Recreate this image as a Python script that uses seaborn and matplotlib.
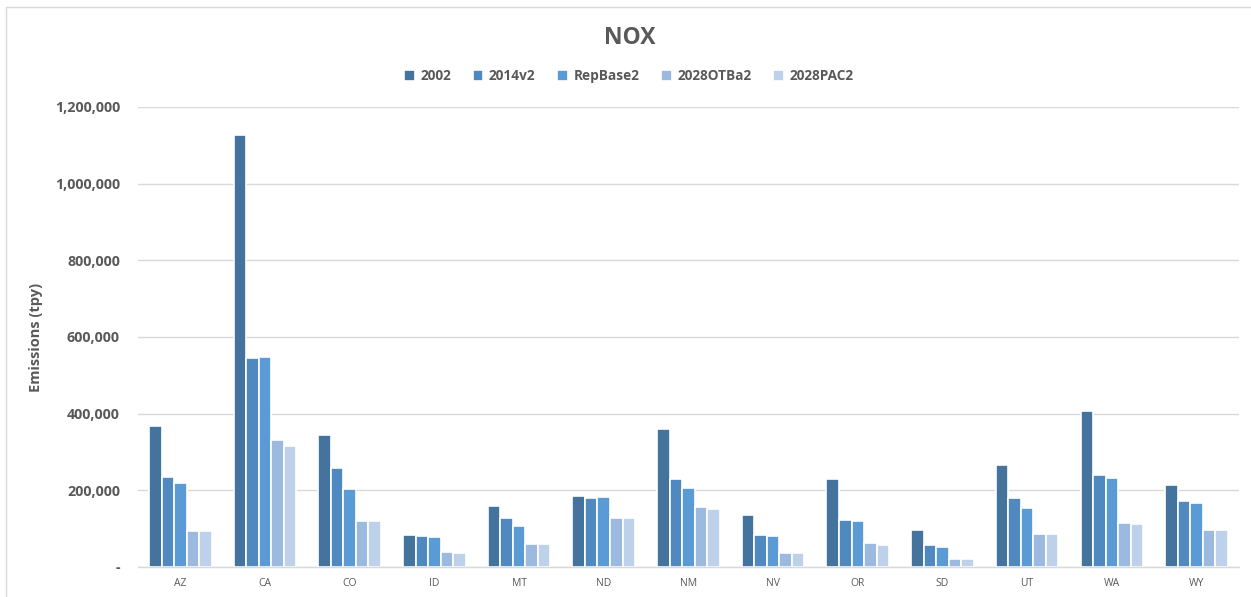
import matplotlib.pyplot as plt
import matplotlib.ticker as mticker
import seaborn as sns
import pandas as pd

# Datos (tpy)
estados = ["AZ", "CA", "CO", "ID", "MT", "ND", "NM", "NV", "OR", "SD", "UT", "WA", "WY"]
escenarios = ["2002", "2014v2", "RepBase2", "2028OTBa2", "2028PAC2"]

v2002 = [369000, 1127000, 344000, 84000, 159000, 185000, 361000, 135000, 230000, 96000, 266000, 407000, 213000]
v2014v2 = [236000, 546000, 258000, 82000, 128000, 180000, 230000, 84000, 122000, 57000, 179000, 241000, 172000]
vRepBase2 = [219000, 548000, 203000, 78000, 108000, 183000, 207000, 82000, 121000, 53000, 154000, 233000, 167000]
v2028OTBa2 = [95000, 330000, 119000, 39000, 61000, 129000, 157000, 37000, 62000, 22000, 87000, 116000, 97000]
v2028PAC2 = [95000, 316000, 119000, 37000, 61000, 129000, 152000, 37000, 58000, 22000, 87000, 113000, 97000]

colores = ["#44739E", "#4F89BF", "#5B9BD5", "#9CBAE0", "#BDD1EA"]
gris = "#595959"

df = pd.DataFrame({
    "estado": estados * 5,
    "escenario": sum([[e] * len(estados) for e in escenarios], []),
    "valor": v2002 + v2014v2 + vRepBase2 + v2028OTBa2 + v2028PAC2,
})

sns.set_style("white")
plt.rcParams["font.family"] = ["Open Sans", "DejaVu Sans"]

fig = plt.figure(figsize=(12.51, 5.97), dpi=100)
ax = fig.add_axes([0.1103, 0.0503, 0.880, 0.7705])

sns.barplot(data=df, x="estado", y="valor", hue="escenario", hue_order=escenarios,
            palette=colores, width=0.74, edgecolor="white", linewidth=1.2,
            saturation=1, ax=ax)

ax.set_ylim(0, 1200000)
ax.set_yticks(range(0, 1200001, 200000))
ax.yaxis.set_major_formatter(mticker.FuncFormatter(lambda v, p: "-" if v == 0 else f"{int(v):,}"))
ax.grid(axis="y", color="#D9D9D9", linewidth=1)
ax.set_axisbelow(True)
for s in ["top", "right", "left"]:
    ax.spines[s].set_visible(False)
ax.spines["bottom"].set_color("#D9D9D9")
ax.spines["bottom"].set_linewidth(1)

ax.tick_params(axis="y", length=0, pad=13, labelsize=10.3, labelcolor=gris)
ax.tick_params(axis="x", length=0, pad=8, labelsize=7.5, labelcolor=gris)
for t in ax.get_yticklabels():
    t.set_fontweight("bold")

ax.set_xlabel("")
ax.set_ylabel("Emissions (tpy)", fontsize=10.5, fontweight="bold", color=gris)
ax.yaxis.set_label_coords(-0.086, 0.5)

ax.legend(loc="center", bbox_to_anchor=(0.5 * (1251 / 1101) - 138 / 1101 + 0.003, 1.067),
          ncol=5, frameon=False, handlelength=0.8, handleheight=0.8,
          handletextpad=0.4, columnspacing=1.6,
          prop={"weight": "bold", "size": 9.8})
for t in ax.get_legend().get_texts():
    t.set_color(gris)

fig.text(0.503, 0.937, "NOX", ha="center", va="center", fontsize=16.5, fontweight="bold", color=gris)

# borde del área del gráfico
fig.patches.append(plt.Rectangle((6 / 1251, -0.05), 1.1, (597 - 7) / 597 + 0.05,
                                 transform=fig.transFigure, fill=False,
                                 edgecolor="#D9D9D9", linewidth=1))

plt.savefig("out.png", dpi=100)
